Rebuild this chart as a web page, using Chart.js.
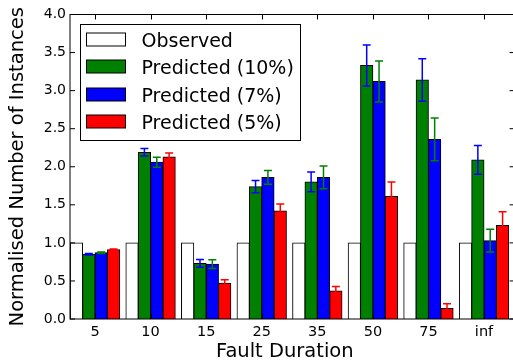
<!DOCTYPE html>
<html>
<head>
<meta charset="utf-8">
<script src="https://cdn.jsdelivr.net/npm/chart.js@4.4.0/dist/chart.umd.min.js"></script>
<style>
html, body { margin: 0; padding: 0; background: #fff; overflow: hidden; }
#wrap { width: 520px; height: 360px; }
</style>
</head>
<body>
<div id="wrap"><canvas id="myChart" width="520" height="360"></canvas></div>
<script>
const categories = ['5', '10', '15', '25', '35', '50', '75', 'inf'];
const observed = [1, 1, 1, 1, 1, 1, 1, 1];
const predicted10 = [0.85, 2.19, 0.73, 1.74, 1.80, 3.33, 3.14, 2.09];
const predicted7 = [0.87, 2.06, 0.72, 1.86, 1.86, 3.12, 2.36, 1.03];
const predicted5 = [0.91, 2.13, 0.47, 1.42, 0.37, 1.61, 0.14, 1.23];
const err10 = [0.01, 0.05, 0.05, 0.08, 0.13, 0.27, 0.28, 0.19];
const err7 = [0.01, 0.065, 0.057, 0.09, 0.15, 0.27, 0.28, 0.15];
const err5 = [0.01, 0.05, 0.044, 0.09, 0.057, 0.19, 0.06, 0.18];
const yTicks = [0, 0.5, 1, 1.5, 2, 2.5, 3, 3.5, 4];

// each group sits at the left of its unit slot, like matplotlib's bar(ind + k*w)
const groupCenter = 0.45;

function toPoints(values) {
    return values.map((v, i) => ({ x: i + groupCenter, y: v }));
}

Chart.defaults.font.family = '"DejaVu Sans", sans-serif';
Chart.defaults.color = '#000';

// box around the axes with inward ticks on all four sides
const frameTicks = {
    id: 'frameTicks',
    afterDatasetsDraw(chart) {
        const { ctx, chartArea: a, scales: { x, y } } = chart;
        ctx.save();
        ctx.strokeStyle = '#000';
        ctx.lineWidth = 1;
        ctx.strokeRect(a.left, a.top, a.right - a.left, a.bottom - a.top);
        ctx.beginPath();
        yTicks.forEach(v => {
            const py = y.getPixelForValue(v);
            ctx.moveTo(a.left, py); ctx.lineTo(a.left + 5, py);
            ctx.moveTo(a.right, py); ctx.lineTo(a.right - 5, py);
        });
        x.ticks.forEach(t => {
            const px = Math.round(x.getPixelForValue(t.value)) + 0.5;
            ctx.moveTo(px, a.bottom); ctx.lineTo(px, a.bottom - 5);
            ctx.moveTo(px, a.top); ctx.lineTo(px, a.top + 5);
        });
        ctx.stroke();
        ctx.restore();
    }
};

const errorBars = {
    id: 'errorBars',
    afterDatasetsDraw(chart) {
        const { ctx, scales: { y } } = chart;
        ctx.save();
        ctx.lineWidth = 1.5;
        chart.data.datasets.forEach((ds, d) => {
            if (!ds.errors) return;
            const meta = chart.getDatasetMeta(d);
            ctx.strokeStyle = ds.errorColor;
            meta.data.forEach((bar, i) => {
                const v = ds.data[i].y;
                const top = y.getPixelForValue(v + ds.errors[i]);
                const bot = y.getPixelForValue(v - ds.errors[i]);
                ctx.beginPath();
                ctx.moveTo(bar.x, top); ctx.lineTo(bar.x, bot);
                ctx.moveTo(bar.x - 4, top); ctx.lineTo(bar.x + 4, top);
                ctx.moveTo(bar.x - 4, bot); ctx.lineTo(bar.x + 4, bot);
                ctx.stroke();
            });
        });
        ctx.restore();
    }
};

// legend drawn inside the plot, upper left, plus the x axis label
const boxLegend = {
    id: 'boxLegend',
    afterDraw(chart) {
        const { ctx, chartArea: a } = chart;
        const left = Math.round(a.left + 10) + 0.5;
        const top = Math.round(a.top + 9) + 0.5;
        ctx.save();
        ctx.lineWidth = 1;
        ctx.strokeStyle = '#000';
        ctx.fillStyle = '#fff';
        ctx.fillRect(left, top, 220, 116);
        ctx.strokeRect(left, top, 220, 116);
        ctx.font = '19px "DejaVu Sans"';
        ctx.textBaseline = 'alphabetic';
        chart.data.datasets.forEach((ds, i) => {
            const cy = Math.round(top + 15 + i * 27.6);
            ctx.fillStyle = ds.backgroundColor;
            ctx.fillRect(left + 6, cy - 7, 39, 13);
            ctx.strokeRect(left + 6, cy - 7, 39, 13);
            ctx.fillStyle = '#000';
            ctx.fillText(ds.label, left + 61, cy + 7);
        });
        // x label sits a little left of the axes centre in the original
        ctx.font = '19.5px "DejaVu Sans"';
        ctx.textAlign = 'center';
        ctx.fillText('Fault Duration', (a.left + a.right) / 2 - 7.5, 356.5);
        ctx.restore();
    }
};

const barStyle = {
    borderColor: '#000000',
    borderWidth: 1,
    inflateAmount: 0.4,
    categoryPercentage: 0.89,
    barPercentage: 1
};

const ctx = document.getElementById('myChart').getContext('2d');
const myChart = new Chart(ctx, {
    type: 'bar',
    data: {
        datasets: [{
            ...barStyle,
            label: 'Observed',
            data: toPoints(observed),
            backgroundColor: '#ffffff'
        }, {
            ...barStyle,
            label: 'Predicted (10%)',
            data: toPoints(predicted10),
            backgroundColor: '#008000',
            errors: err10,
            errorColor: '#0000ff'
        }, {
            ...barStyle,
            label: 'Predicted (7%)',
            data: toPoints(predicted7),
            backgroundColor: '#0000ff',
            errors: err7,
            errorColor: '#008000'
        }, {
            ...barStyle,
            label: 'Predicted (5%)',
            data: toPoints(predicted5),
            backgroundColor: '#ff0000',
            errors: err5,
            errorColor: '#ff0000'
        }]
    },
    options: {
        responsive: false,
        animation: false,
        devicePixelRatio: 1,
        layout: { padding: { top: 14.5, right: 5.4, left: 0, bottom: 0 } },
        plugins: {
            legend: { display: false },
            tooltip: { enabled: false }
        },
        scales: {
            x: {
                type: 'linear',
                min: 0,
                max: 8,
                offset: false,
                grid: { display: false, drawTicks: false },
                border: { display: false },
                afterBuildTicks: axis => {
                    axis.ticks = categories.map((c, i) => ({ value: i + groupCenter }));
                },
                afterFit: axis => { axis.height = 41; },
                ticks: {
                    autoSkip: false,
                    maxRotation: 0,
                    padding: 5,
                    font: { size: 14.5 },
                    callback: (value, index) => categories[index]
                }
            },
            y: {
                min: 0,
                max: 4,
                grid: { display: false, drawTicks: false },
                border: { display: false },
                afterFit: axis => { axis.width = 70; },
                ticks: {
                    stepSize: 0.5,
                    padding: 4,
                    font: { size: 14 },
                    callback: v => v.toFixed(1)
                },
                title: {
                    display: true,
                    text: 'Normalised Number of Instances',
                    font: { size: 19.5 },
                    padding: { top: 6, bottom: 0 }
                }
            }
        }
    },
    plugins: [frameTicks, errorBars, boxLegend]
});
</script>
</body>
</html>
